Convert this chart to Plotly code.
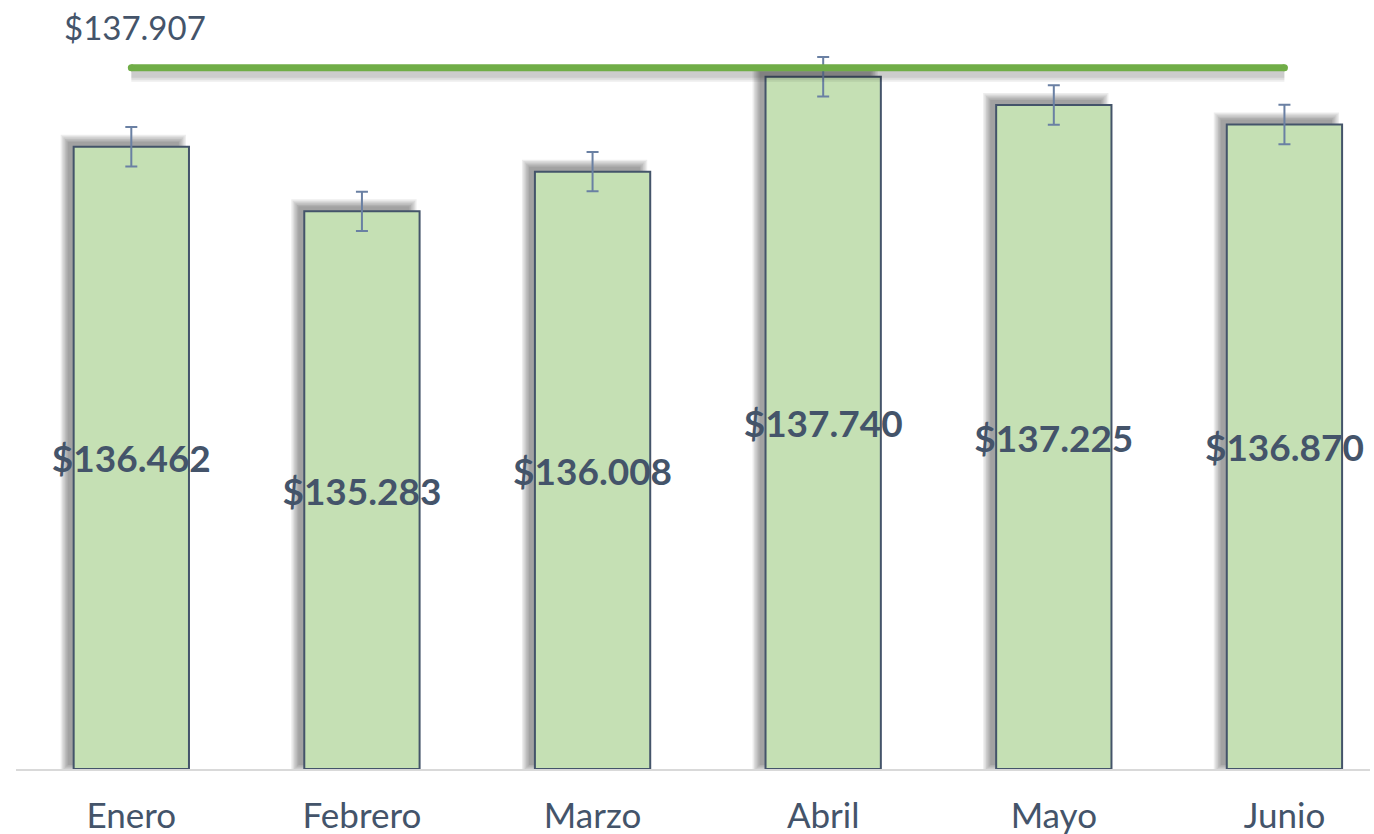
import plotly.graph_objects as go

meses = ["Enero", "Febrero", "Marzo", "Abril", "Mayo", "Junio"]
ventas = [136462, 135283, 136008, 137740, 137225, 136870]
error_std = [360, 360, 360, 360, 360, 360]
promedio = 137907
y_min = 125100
y_max = 138960

etiquetas = ["$" + f"{v:,}".replace(",", ".") for v in ventas]
etiqueta_prom = "$" + f"{promedio:,}".replace(",", ".")

# pixel helpers (plot area 1354 x 759 px)
PX_X = (5.371 + 0.5) / 1354
PX_Y = (y_max - y_min) / 759

fig = go.Figure()

# soft shadow layers behind bars (offset up-left, blurred)
for j in range(6):
    e = j * 1.4
    fig.add_trace(go.Bar(
        x=meses,
        y=[v - y_min + (5 + e) * PX_Y - (4 - e) * PX_Y for v in ventas],
        base=y_min + (4 - e) * PX_Y,
        width=0.5 + 2 * e * PX_X - 4 * PX_X, offset=-0.25 - 6 * PX_X - e * PX_X,
        marker=dict(color="rgba(0,0,0,0.07)", line=dict(width=0)),
        hoverinfo="skip", showlegend=False,
    ))

fig.add_trace(go.Bar(
    x=meses, y=[v - y_min for v in ventas], base=y_min, width=0.5,
    marker=dict(color="#C5E0B4", line=dict(color="#44546A", width=2)),
    text=etiquetas, textposition="inside", insidetextanchor="middle",
    textangle=0, constraintext="none", cliponaxis=False,
    textfont=dict(family="Lato", size=37, color="#44546A", weight="bold"),
    error_y=dict(type="data", array=error_std, color="#6A80A3", thickness=2, width=6),
    showlegend=False,
))

# shadow of average line
for w in [8, 12, 16]:
    fig.add_trace(go.Scatter(
        x=[meses[0], meses[-1]], y=[promedio - 6 * PX_Y] * 2, mode="lines",
        line=dict(color="rgba(0,0,0,0.07)", width=w), hoverinfo="skip", showlegend=False,
    ))
fig.add_trace(go.Scatter(
    x=[meses[0], meses[-1]], y=[promedio, promedio], mode="lines+markers",
    line=dict(color="#70AD47", width=7),
    marker=dict(color="#70AD47", size=7, line=dict(width=0)),
    showlegend=False,
))

fig.add_annotation(
    xref="paper", yref="paper", x=(135 - 16) / 1354, y=(769 - 27) / 759,
    xanchor="center", yanchor="middle",
    text=etiqueta_prom, showarrow=False,
    font=dict(family="Lato", size=33, color="#44546A"),
)

fig.update_layout(
    width=1374, height=834, autosize=False,
    margin=dict(l=16, r=4, t=10, b=65),
    paper_bgcolor="white", plot_bgcolor="white",
    barmode="overlay", bargap=0.5,
    xaxis=dict(range=[-0.5, 5.371], showgrid=False, zeroline=False,
               showline=True, linecolor="#D9D9D9", linewidth=1.5,
               ticks="", ticklabelstandoff=15, automargin=False,
               tickfont=dict(family="Lato", size=35, color="#44546A")),
    yaxis=dict(range=[y_min, y_max], visible=False, automargin=False),
)

fig.write_html("out.html", config={"displayModeBar": False},
               post_script="document.body.style.margin='0';document.body.style.overflow='hidden';")
